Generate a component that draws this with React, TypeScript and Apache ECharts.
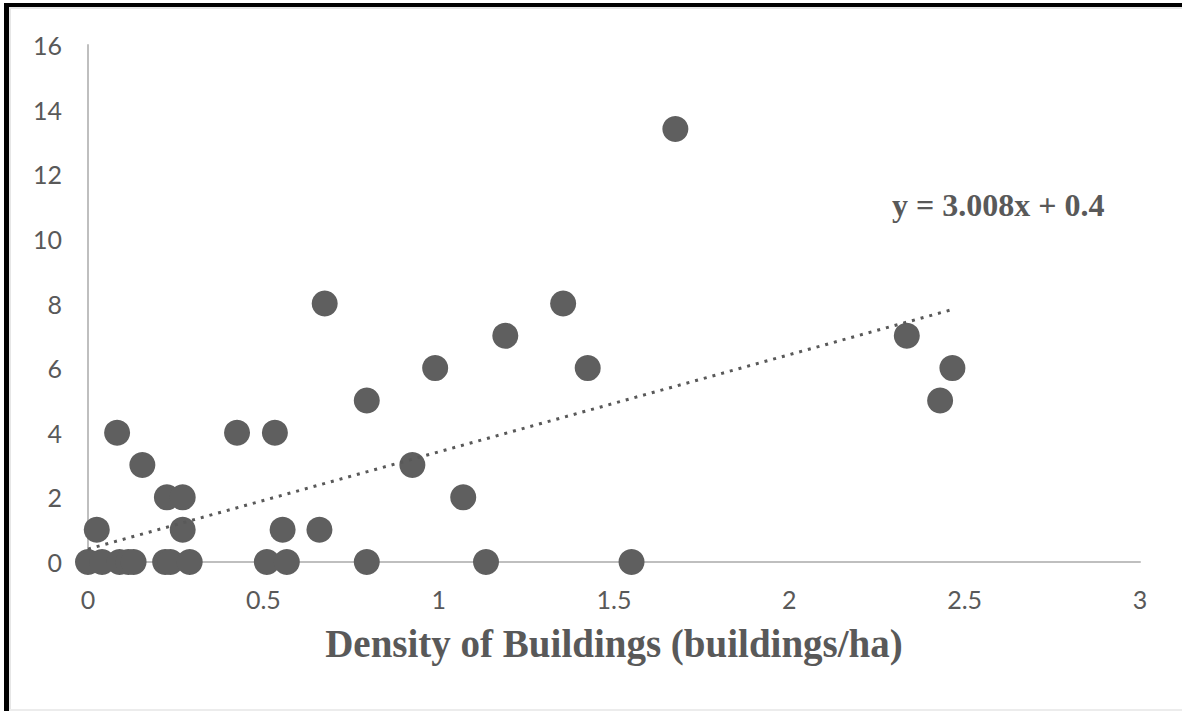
import React, { useEffect, useRef } from "react";
import * as echarts from "echarts";

// Scatter data: [density (buildings/ha), count]
const pointsX: number[] = [
  0, 0.04, 0.09, 0.115, 0.13, 0.22, 0.235, 0.29, 0.51, 0.567, 0.795, 1.135, 1.55,
  0.025, 0.27, 0.555, 0.66,
  0.225, 0.27, 1.07,
  0.155, 0.925,
  0.083, 0.425, 0.533,
  0.795, 2.43,
  0.99, 1.425, 2.465,
  1.19, 2.335,
  0.675, 1.355,
  1.675,
];
const pointsY: number[] = [
  0, 0, 0, 0, 0, 0, 0, 0, 0, 0, 0, 0, 0,
  1, 1, 1, 1,
  2, 2, 2,
  3, 3,
  4, 4, 4,
  5, 5,
  6, 6, 6,
  7, 7,
  8, 8,
  13.4,
];
const trendX: number[] = [0, 2.46];
const trendY: number[] = [0.4, 7.8];
const equationLabel = "y = 3.008x + 0.4";
const xAxisTitle = "Density of Buildings (buildings/ha)";

export default function App() {
  const ref = useRef<HTMLDivElement>(null);
  useEffect(() => {
    if (!ref.current) return;
    const chart = echarts.init(ref.current, null, { renderer: "svg" });
    const scatterData = pointsX.map((x, i) => [x, pointsY[i]]);
    const trendData = trendX.map((x, i) => [x, trendY[i]]);
    chart.setOption({
      animation: false,
      backgroundColor: "#ffffff",
      grid: { left: 88, right: 42, top: 45, bottom: 149 },
      xAxis: {
        type: "value",
        min: 0,
        max: 3,
        interval: 0.5,
        axisLine: { show: true, onZero: false, lineStyle: { color: "#bfbfbf", width: 2 } },
        axisTick: { show: false },
        splitLine: { show: false },
        axisLabel: { color: "#595959", fontSize: 25, fontFamily: "Lato", margin: 24 },
        name: xAxisTitle,
        nameLocation: "middle",
        nameGap: 62,
        nameTextStyle: {
          color: "#595959",
          fontSize: 39,
          fontWeight: "bold",
          fontFamily: "Liberation Serif",
        },
      },
      yAxis: {
        type: "value",
        min: 0,
        max: 16,
        interval: 2,
        axisLine: { show: true, onZero: false, lineStyle: { color: "#bfbfbf", width: 2 } },
        axisTick: { show: false },
        splitLine: { show: false },
        axisLabel: { color: "#595959", fontSize: 25, fontFamily: "Lato", margin: 26 },
      },
      series: [
        {
          type: "line",
          data: trendData,
          symbol: "none",
          lineStyle: { color: "#595959", width: 3, type: [3, 6] },
          z: 3,
        },
        {
          type: "scatter",
          data: scatterData,
          symbol: "circle",
          symbolSize: 26,
          itemStyle: { color: "#5f5f5f", opacity: 1 },
          z: 2,
        },
      ],
      graphic: [
        { type: "rect", shape: { x: 4, y: 3, width: 1178, height: 4 }, style: { fill: "#000" } },
        { type: "rect", shape: { x: 4, y: 3, width: 5, height: 708 }, style: { fill: "#000" } },
        { type: "rect", shape: { x: 9, y: 7, width: 1173, height: 2 }, style: { fill: "#e6e6e6" } },
        { type: "rect", shape: { x: 9, y: 7, width: 2, height: 704 }, style: { fill: "#e6e6e6" } },
        { type: "rect", shape: { x: 9, y: 709, width: 1173, height: 2 }, style: { fill: "#ececec" } },
        {
          type: "text",
          left: 892,
          top: 189,
          style: {
            text: equationLabel,
            fill: "#595959",
            fontSize: 32,
            fontWeight: "bold",
            fontFamily: "Liberation Serif",
          },
        },
      ],
    });
    return () => chart.dispose();
  }, []);
  return (
    <div
      ref={ref}
      style={{ position: "fixed", left: 0, top: 0, width: 1182, height: 711 }}
    />
  );
}
